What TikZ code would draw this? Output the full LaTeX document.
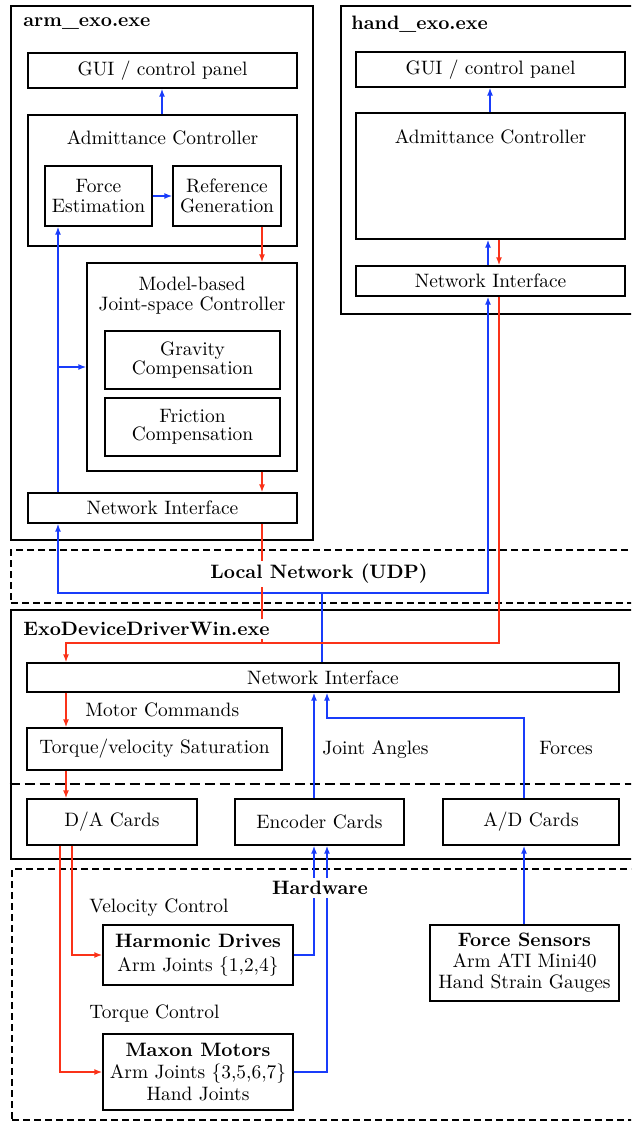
\documentclass[tikz,border=0pt]{standalone}
\usepackage{fontspec}
\usetikzlibrary{arrows.meta}
\definecolor{cblue}{RGB}{25,60,250}
\definecolor{cred}{RGB}{250,50,25}
\newcommand{\fs}[1]{\fontsize{9.7}{#1}\selectfont}
\begin{document}
\begin{tikzpicture}[x=0.5pt,y=-0.5pt,
  every node/.style={font=\fs{10.5}},
  sz/.style 2 args={minimum width=#1*0.5pt, minimum height=#2*0.5pt},
  box/.style={draw, line width=0.65pt, inner sep=0pt, align=center},
  cont/.style={draw, line width=1.4pt, inner sep=0pt},
  dbox/.style={draw, line width=0.75pt, dash pattern=on 3.5pt off 2pt, inner sep=0pt},
  bl/.style={draw=cblue, line width=0.8pt},
  rd/.style={draw=cred, line width=0.8pt},
  tip/.style={-{Latex[length=4pt,width=3pt]}},
  lbl/.style={inner sep=0pt, align=center},
  side/.style={inner sep=0pt, anchor=west, text height=1.5ex, text depth=.25ex},
  ttl/.style={inner sep=0pt, anchor=west, font=\fs{10.5}\bfseries},
  mask/.style={fill=white, inner sep=1.5pt, font=\fs{10.5}\bfseries},
]
\clip (0,0) rectangle (631,1122);

% ---------- x / y helper coordinates ----------
\coordinate (xL) at (58,0);
\coordinate (xR) at (262,0);
\coordinate (xG) at (162,0);
\coordinate (xHG) at (490,0);
\coordinate (xHB) at (488,0);
\coordinate (xHR) at (499,0);
\coordinate (xC) at (322,0);
\coordinate (xM) at (66,0);
\coordinate (xE1) at (314,0);
\coordinate (xE2) at (327,0);
\coordinate (xAD) at (524,0);
\coordinate (xD1) at (60,0);
\coordinate (xD2) at (72,0);
\coordinate (yB) at (0,367);
\coordinate (yN) at (0,593);
\coordinate (yRd) at (0,643);
\coordinate (yF) at (0,718);

% ---------- arm_exo.exe ----------
\node[cont, sz={302}{534}] (armBox) at (162,273) {};
\node[box, sz={269}{35}] (armGUI) at (162.5,70.5) {GUI / control panel};
\node[box, sz={269}{131}] (armAdm) at (162.5,180.5) {};
\node[lbl] (armAdmT) at (162.5,138) {Admittance Controller};
\node[box, sz={107}{60}, font=\fs{10.3}] (forceEst) at (98.5,196) {Force\\Estimation};
\node[box, sz={108}{60}, font=\fs{10.3}] (refGen) at (227,196) {Reference\\Generation};
\node[box, sz={210}{208}] (model) at (192,367) {};
\node[lbl, font=\fs{10}] (modelT) at (192,296) {Model-based\\Joint-space Controller};
\node[box, sz={175}{58}, font=\fs{9.2}] (grav) at (192.5,360) {Gravity\\Compensation};
\node[box, sz={175}{58}, font=\fs{9}] (fric) at (192.5,427) {Friction\\Compensation};
\node[box, sz={269}{30}] (armNI) at (162.5,508) {Network Interface};

% ---------- hand_exo.exe ----------
\node[cont, sz={304}{308}] (handBox) at (493,160) {};
\node[box, sz={269}{35}] (handGUI) at (490.5,69.5) {GUI / control panel};
\node[box, sz={269}{126}] (handAdm) at (490.5,176) {};
\node[lbl] (handAdmT) at (490.5,137) {Admittance Controller};
\node[box, sz={269}{30}] (handNI) at (490.5,281) {Network Interface};

% ---------- Local network ----------
\node[dbox, sz={634}{53}] (netBox) at (328,576.5) {};

% ---------- ExoDeviceDriverWin.exe ----------
\node[cont, sz={634}{249}] (drvBox) at (328,734.5) {};
\draw[line width=1.3pt, dash pattern=on 5pt off 2.5pt] (drvBox.west |- 0,784) -- (drvBox.east |- 0,784);
\node[box, sz={592}{29}] (drvNI) at (323,677.5) {Network Interface};
\node[box, sz={255}{42}] (torque) at (154.5,749) {Torque/velocity Saturation};
\node[box, sz={170}{46}] (da) at (112,822) {D/A Cards};
\node[box, sz={169}{46}] (enc) at (319.5,822) {Encoder Cards};
\node[box, sz={176}{46}] (ad) at (531,822) {A/D Cards};
\node[side] (motT) at (85,711) {Motor Commands};
\node[side] (jaT) at (322,749) {Joint Angles};
\node[side] (foT) at (539,749) {Forces};

% ---------- Hardware ----------
\node[dbox, sz={633}{251}] (hwBox) at (328.5,994.5) {};
\node[box, sz={190}{60}, font=\fs{11.8}] (harm) at (198,955) {\textbf{Harmonic Drives}\\Arm Joints \{1,2,4\}};
\node[box, sz={190}{76}, font=\fs{10.8}] (maxon) at (198,1072) {\textbf{Maxon Motors}\\Arm Joints \{3,5,6,7\}\\Hand Joints};
\node[box, sz={189}{76}, font=\fs{10.5}] (fsens) at (524.5,963) {\textbf{Force Sensors}\\Arm ATI Mini40\\Hand Strain Gauges};
\node[side] (velT) at (89,907) {Velocity Control};
\node[side] (torT) at (89,1013) {Torque Control};

% ---------- connectors: arm ----------
\draw[bl,tip] (armAdm.north -| xG) -- (armGUI.south -| xG);
\draw[bl,tip] (forceEst.east) -- (forceEst.east -| refGen.west);
\draw[rd,tip] (refGen.south -| xR) -- (model.north -| xR);
\draw[rd,tip] (model.south -| xR) -- (armNI.north -| xR);
\draw[bl,tip] (armNI.north -| xL) -- (forceEst.south -| xL);
\draw[bl,tip] (yB -| xL) -- (yB -| model.west);

% ---------- connectors: hand ----------
\draw[bl,tip] (handAdm.north -| xHG) -- (handGUI.south -| xHG);
\draw[bl,tip] (handNI.north -| xHB) -- (handAdm.south -| xHB);
\draw[rd,tip] (handAdm.south -| xHR) -- (handNI.north -| xHR);

% ---------- connectors: network ----------
\draw[bl,tip] (drvNI.north -| xC) -- (yN -| xC) -| (armNI.south -| xL);
\draw[bl,tip] (yN -| xC) -| (handNI.south -| xHB);
\draw[rd] (armNI.south -| xR) -- (yRd -| xR);
\draw[rd,tip] (handNI.south -| xHR) |- (yRd -| xM) -- (drvNI.north -| xM);

% ---------- connectors: driver ----------
\draw[rd,tip] (drvNI.south -| xM) -- (torque.north -| xM);
\draw[rd,tip] (torque.south -| xM) -- (da.north -| xM);
\draw[bl,tip] (enc.north -| xE1) -- (drvNI.south -| xE1);
\draw[bl,tip] (ad.north -| xAD) |- (yF -| xE2) -- (drvNI.south -| xE2);

% ---------- connectors: hardware ----------
\draw[rd,tip] (da.south -| xD2) |- (harm.west);
\draw[rd,tip] (da.south -| xD1) |- (maxon.west);
\draw[bl,tip] (harm.east) -| (enc.south -| xE1);
\draw[bl,tip] (maxon.east) -| (enc.south -| xE2);
\draw[bl,tip] (fsens.north -| xAD) -- (ad.south -| xAD);

% ---------- titles (drawn last, masking lines) ----------
\node[ttl] (armT) at (23,24) {arm\_exo.exe};
\node[ttl] (handT) at (351,24) {hand\_exo.exe};
\node[mask, anchor=west] (drvT) at (20,629) {ExoDeviceDriverWin.exe};
\node[mask] (netT) at (319,574) {Local Network (UDP)};
\node[mask] (hwT) at (320,888) {Hardware};
\end{tikzpicture}
\end{document}
